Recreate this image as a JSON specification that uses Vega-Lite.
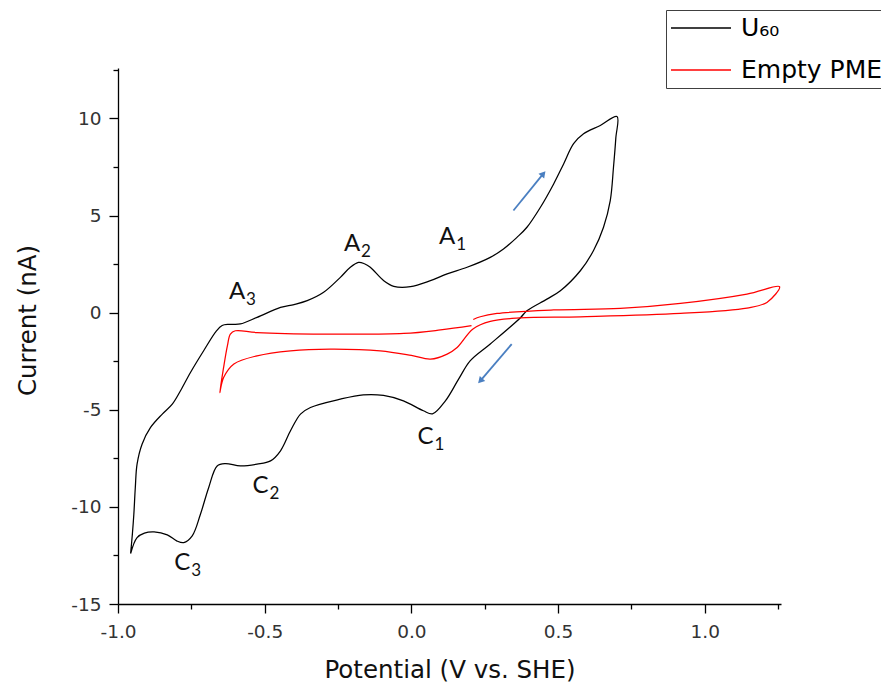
{
  "$schema": "https://vega.github.io/schema/vega-lite/v6.json",
  "autosize": {"type": "none"},
  "width": 663,
  "height": 536,
  "padding": {"left": 118, "top": 68, "right": 100, "bottom": 83},
  "background": "white",
  "config": {
    "view": {"stroke": null},
    "axis": {
      "grid": false,
      "domainColor": "#000000",
      "domainWidth": 1.3,
      "tickColor": "#000000",
      "tickWidth": 1.3,
      "labelFont": "DejaVu Sans",
      "labelFontSize": 18.5,
      "labelColor": "#333333",
      "titleFont": "DejaVu Sans",
      "titleFontSize": 24.5,
      "titleFontWeight": "normal",
      "titleColor": "#111111"
    },
    "legend": {
      "labelFont": "DejaVu Sans",
      "labelFontSize": 25,
      "labelColor": "#000000"
    }
  },
  "datasets": {
    "cv": [
      {"series": "U₆₀", "i": 1, "E": -0.957, "I": -12.40},
      {"series": "U₆₀", "i": 2, "E": -0.951, "I": -11.40},
      {"series": "U₆₀", "i": 3, "E": -0.946, "I": -10.38},
      {"series": "U₆₀", "i": 4, "E": -0.941, "I": -9.00},
      {"series": "U₆₀", "i": 5, "E": -0.935, "I": -7.80},
      {"series": "U₆₀", "i": 6, "E": -0.918, "I": -6.77},
      {"series": "U₆₀", "i": 7, "E": -0.889, "I": -5.91},
      {"series": "U₆₀", "i": 8, "E": -0.849, "I": -5.22},
      {"series": "U₆₀", "i": 9, "E": -0.815, "I": -4.71},
      {"series": "U₆₀", "i": 10, "E": -0.787, "I": -4.02},
      {"series": "U₆₀", "i": 11, "E": -0.753, "I": -3.08},
      {"series": "U₆₀", "i": 12, "E": -0.708, "I": -1.96},
      {"series": "U₆₀", "i": 13, "E": -0.665, "I": -0.95},
      {"series": "U₆₀", "i": 14, "E": -0.645, "I": -0.66},
      {"series": "U₆₀", "i": 15, "E": -0.620, "I": -0.60},
      {"series": "U₆₀", "i": 16, "E": -0.583, "I": -0.58},
      {"series": "U₆₀", "i": 17, "E": -0.526, "I": -0.24},
      {"series": "U₆₀", "i": 18, "E": -0.446, "I": 0.27},
      {"series": "U₆₀", "i": 19, "E": -0.400, "I": 0.42},
      {"series": "U₆₀", "i": 20, "E": -0.355, "I": 0.62},
      {"series": "U₆₀", "i": 21, "E": -0.299, "I": 1.05},
      {"series": "U₆₀", "i": 22, "E": -0.242, "I": 1.82},
      {"series": "U₆₀", "i": 23, "E": -0.208, "I": 2.34},
      {"series": "U₆₀", "i": 24, "E": -0.180, "I": 2.59},
      {"series": "U₆₀", "i": 25, "E": -0.160, "I": 2.52},
      {"series": "U₆₀", "i": 26, "E": -0.140, "I": 2.34},
      {"series": "U₆₀", "i": 27, "E": -0.094, "I": 1.65},
      {"series": "U₆₀", "i": 28, "E": -0.060, "I": 1.36},
      {"series": "U₆₀", "i": 29, "E": -0.003, "I": 1.34},
      {"series": "U₆₀", "i": 30, "E": 0.065, "I": 1.65},
      {"series": "U₆₀", "i": 31, "E": 0.122, "I": 2.00},
      {"series": "U₆₀", "i": 32, "E": 0.190, "I": 2.34},
      {"series": "U₆₀", "i": 33, "E": 0.269, "I": 2.85},
      {"series": "U₆₀", "i": 34, "E": 0.314, "I": 3.28},
      {"series": "U₆₀", "i": 35, "E": 0.360, "I": 3.88},
      {"series": "U₆₀", "i": 36, "E": 0.394, "I": 4.40},
      {"series": "U₆₀", "i": 37, "E": 0.440, "I": 5.43},
      {"series": "U₆₀", "i": 38, "E": 0.485, "I": 6.63},
      {"series": "U₆₀", "i": 39, "E": 0.519, "I": 7.66},
      {"series": "U₆₀", "i": 40, "E": 0.553, "I": 8.70},
      {"series": "U₆₀", "i": 41, "E": 0.587, "I": 9.21},
      {"series": "U₆₀", "i": 42, "E": 0.644, "I": 9.64},
      {"series": "U₆₀", "i": 43, "E": 0.701, "I": 10.10},
      {"series": "U₆₀", "i": 44, "E": 0.697, "I": 9.00},
      {"series": "U₆₀", "i": 45, "E": 0.689, "I": 7.49},
      {"series": "U₆₀", "i": 46, "E": 0.678, "I": 5.77},
      {"series": "U₆₀", "i": 47, "E": 0.655, "I": 4.40},
      {"series": "U₆₀", "i": 48, "E": 0.621, "I": 3.20},
      {"series": "U₆₀", "i": 49, "E": 0.576, "I": 2.16},
      {"series": "U₆₀", "i": 50, "E": 0.508, "I": 1.13},
      {"series": "U₆₀", "i": 51, "E": 0.462, "I": 0.70},
      {"series": "U₆₀", "i": 52, "E": 0.394, "I": 0.10},
      {"series": "U₆₀", "i": 53, "E": 0.371, "I": -0.27},
      {"series": "U₆₀", "i": 54, "E": 0.269, "I": -1.61},
      {"series": "U₆₀", "i": 55, "E": 0.201, "I": -2.47},
      {"series": "U₆₀", "i": 56, "E": 0.161, "I": -3.42},
      {"series": "U₆₀", "i": 57, "E": 0.116, "I": -4.54},
      {"series": "U₆₀", "i": 58, "E": 0.072, "I": -5.21},
      {"series": "U₆₀", "i": 59, "E": 0.041, "I": -5.05},
      {"series": "U₆₀", "i": 60, "E": -0.027, "I": -4.54},
      {"series": "U₆₀", "i": 61, "E": -0.095, "I": -4.26},
      {"series": "U₆₀", "i": 62, "E": -0.164, "I": -4.23},
      {"series": "U₆₀", "i": 63, "E": -0.242, "I": -4.45},
      {"series": "U₆₀", "i": 64, "E": -0.344, "I": -4.88},
      {"series": "U₆₀", "i": 65, "E": -0.378, "I": -5.22},
      {"series": "U₆₀", "i": 66, "E": -0.412, "I": -6.08},
      {"series": "U₆₀", "i": 67, "E": -0.446, "I": -7.11},
      {"series": "U₆₀", "i": 68, "E": -0.480, "I": -7.63},
      {"series": "U₆₀", "i": 69, "E": -0.526, "I": -7.80},
      {"series": "U₆₀", "i": 70, "E": -0.583, "I": -7.89},
      {"series": "U₆₀", "i": 71, "E": -0.634, "I": -7.77},
      {"series": "U₆₀", "i": 72, "E": -0.662, "I": -7.89},
      {"series": "U₆₀", "i": 73, "E": -0.691, "I": -9.01},
      {"series": "U₆₀", "i": 74, "E": -0.719, "I": -10.38},
      {"series": "U₆₀", "i": 75, "E": -0.747, "I": -11.49},
      {"series": "U₆₀", "i": 76, "E": -0.776, "I": -11.84},
      {"series": "U₆₀", "i": 77, "E": -0.800, "I": -11.75},
      {"series": "U₆₀", "i": 78, "E": -0.832, "I": -11.44},
      {"series": "U₆₀", "i": 79, "E": -0.877, "I": -11.29},
      {"series": "U₆₀", "i": 80, "E": -0.910, "I": -11.35},
      {"series": "U₆₀", "i": 81, "E": -0.935, "I": -11.58},
      {"series": "U₆₀", "i": 82, "E": -0.957, "I": -12.40},

      {"series": "Empty PME", "i": 1, "E": 0.211, "I": -0.35},
      {"series": "Empty PME", "i": 2, "E": 0.235, "I": -0.21},
      {"series": "Empty PME", "i": 3, "E": 0.292, "I": -0.04},
      {"series": "Empty PME", "i": 4, "E": 0.485, "I": 0.14},
      {"series": "Empty PME", "i": 5, "E": 0.712, "I": 0.22},
      {"series": "Empty PME", "i": 6, "E": 0.917, "I": 0.48},
      {"series": "Empty PME", "i": 7, "E": 1.144, "I": 0.96},
      {"series": "Empty PME", "i": 8, "E": 1.255, "I": 1.34},
      {"series": "Empty PME", "i": 9, "E": 1.212, "I": 0.53},
      {"series": "Empty PME", "i": 10, "E": 1.144, "I": 0.24},
      {"series": "Empty PME", "i": 11, "E": 0.917, "I": -0.04},
      {"series": "Empty PME", "i": 12, "E": 0.576, "I": -0.21},
      {"series": "Empty PME", "i": 13, "E": 0.371, "I": -0.27},
      {"series": "Empty PME", "i": 14, "E": 0.269, "I": -0.45},
      {"series": "Empty PME", "i": 15, "E": 0.210, "I": -0.84},
      {"series": "Empty PME", "i": 16, "E": 0.156, "I": -1.79},
      {"series": "Empty PME", "i": 17, "E": 0.122, "I": -2.13},
      {"series": "Empty PME", "i": 18, "E": 0.065, "I": -2.39},
      {"series": "Empty PME", "i": 19, "E": 0.000, "I": -2.20},
      {"series": "Empty PME", "i": 20, "E": -0.106, "I": -1.96},
      {"series": "Empty PME", "i": 21, "E": -0.276, "I": -1.87},
      {"series": "Empty PME", "i": 22, "E": -0.412, "I": -1.96},
      {"series": "Empty PME", "i": 23, "E": -0.526, "I": -2.22},
      {"series": "Empty PME", "i": 24, "E": -0.605, "I": -2.64},
      {"series": "Empty PME", "i": 25, "E": -0.640, "I": -3.34},
      {"series": "Empty PME", "i": 26, "E": -0.653, "I": -4.11},
      {"series": "Empty PME", "i": 27, "E": -0.640, "I": -2.82},
      {"series": "Empty PME", "i": 28, "E": -0.627, "I": -1.70},
      {"series": "Empty PME", "i": 29, "E": -0.617, "I": -1.10},
      {"series": "Empty PME", "i": 30, "E": -0.600, "I": -0.93},
      {"series": "Empty PME", "i": 31, "E": -0.526, "I": -1.02},
      {"series": "Empty PME", "i": 32, "E": -0.299, "I": -1.10},
      {"series": "Empty PME", "i": 33, "E": -0.026, "I": -1.07},
      {"series": "Empty PME", "i": 34, "E": 0.099, "I": -0.89},
      {"series": "Empty PME", "i": 35, "E": 0.205, "I": -0.67}
    ],
    "peaks": [
      {"letter": "A", "sub": "1", "E": 0.122, "I": 3.88},
      {"letter": "A", "sub": "2", "E": -0.202, "I": 3.54},
      {"letter": "A", "sub": "3", "E": -0.594, "I": 1.05},
      {"letter": "C", "sub": "1", "E": 0.048, "I": -6.39},
      {"letter": "C", "sub": "2", "E": -0.514, "I": -8.92},
      {"letter": "C", "sub": "3", "E": -0.781, "I": -12.87}
    ],
    "sweeps": [
      {"dir": "forward", "E": 0.348, "I": 5.26, "E2": 0.450, "I2": 7.16},
      {"dir": "reverse", "E": 0.342, "I": -1.62, "E2": 0.235, "I2": -3.51}
    ]
  },
  "encoding": {
    "x": {
      "field": "E",
      "type": "quantitative",
      "scale": {"domain": [-1, 1.26], "nice": false, "zero": false},
      "axis": {
        "title": "Potential (V vs. SHE)",
        "values": [-1, -0.75, -0.5, -0.25, 0, 0.25, 0.5, 0.75, 1, 1.25],
        "labelExpr": "abs(datum.value * 2 - round(datum.value * 2)) < 0.001 ? replace(format(datum.value, '.1f'), '\u2212', '-') : ''",
        "tickSize": {"condition": {"test": "abs(datum.value * 2 - round(datum.value * 2)) > 0.001", "value": 5}, "value": 9},
        "labelPadding": 9,
        "labelFlush": false,
        "labelOverlap": false,
        "titleY": 73,
        "titleBaseline": "alphabetic"
      }
    },
    "y": {
      "field": "I",
      "type": "quantitative",
      "scale": {"domain": [-15, 12.6], "nice": false, "zero": false},
      "axis": {
        "title": "Current (nA)",
        "values": [-15, -12.5, -10, -7.5, -5, -2.5, 0, 2.5, 5, 7.5, 10, 12.5],
        "labelExpr": "datum.value % 5 == 0 ? toString(datum.value) : ''",
        "tickSize": {"condition": {"test": "datum.value % 5 != 0", "value": 5}, "value": 9},
        "labelPadding": 8,
        "labelFlush": false,
        "labelOverlap": false,
        "titleAngle": -90,
        "titleX": -90,
        "titleY": 252,
        "titleAlign": "center",
        "titleBaseline": "middle"
      }
    }
  },
  "layer": [
    {
      "data": {"name": "cv"},
      "mark": {"type": "line", "strokeWidth": 1.25, "interpolate": "catmull-rom"},
      "encoding": {
        "order": {"field": "i", "type": "quantitative"},
        "color": {
          "field": "series",
          "type": "nominal",
          "scale": {"domain": ["U₆₀", "Empty PME"], "range": ["#000000", "#ff0000"]},
          "legend": {
            "title": null,
            "orient": "none",
            "legendX": 548,
            "legendY": -58,
            "symbolType": "stroke",
            "symbolSize": 3844,
            "symbolStrokeWidth": 1.3,
            "symbolOffset": -3,
            "clipHeight": 26,
            "rowPadding": 16,
            "padding": 5,
            "labelOffset": 9,
            "labelLimit": 400,
            "strokeColor": "#404040"
          }
        }
      }
    },
    {
      "data": {"name": "sweeps"},
      "mark": {"type": "rule", "color": "#4a7fc1", "strokeWidth": 1.8},
      "encoding": {
        "x2": {"field": "E2"},
        "y2": {"field": "I2"}
      }
    },
    {
      "data": {"name": "sweeps"},
      "transform": [{"filter": "datum.dir == 'forward'"}],
      "mark": {"type": "point", "shape": "triangle-up", "filled": true, "size": 55, "angle": 40, "color": "#4a7fc1", "opacity": 1},
      "encoding": {
        "x": {"field": "E2", "type": "quantitative", "title": "Potential (V vs. SHE)"},
        "y": {"field": "I2", "type": "quantitative", "title": "Current (nA)"}
      }
    },
    {
      "data": {"name": "sweeps"},
      "transform": [{"filter": "datum.dir == 'reverse'"}],
      "mark": {"type": "point", "shape": "triangle-up", "filled": true, "size": 55, "angle": 223, "color": "#4a7fc1", "opacity": 1},
      "encoding": {
        "x": {"field": "E2", "type": "quantitative", "title": "Potential (V vs. SHE)"},
        "y": {"field": "I2", "type": "quantitative", "title": "Current (nA)"}
      }
    },
    {
      "data": {"name": "peaks"},
      "mark": {"type": "text", "font": "Lato", "fontSize": 24, "align": "center", "baseline": "middle", "color": "#111111"},
      "encoding": {"text": {"field": "letter"}}
    },
    {
      "data": {"name": "peaks"},
      "mark": {"type": "text", "font": "Lato", "fontSize": 17, "align": "left", "baseline": "middle", "dx": 9, "dy": 8, "color": "#111111"},
      "encoding": {"text": {"field": "sub"}}
    }
  ]
}
